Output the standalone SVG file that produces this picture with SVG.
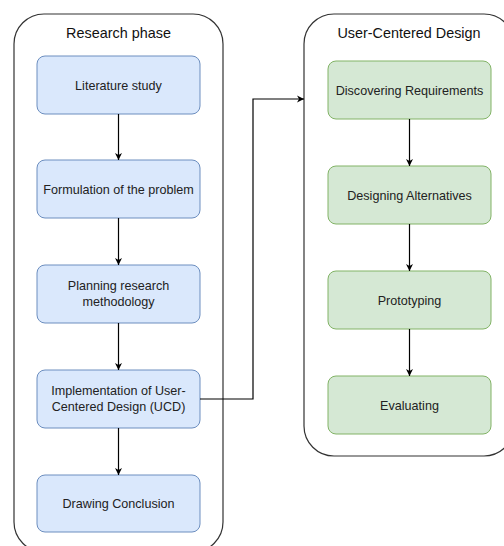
<svg xmlns="http://www.w3.org/2000/svg" width="504" height="546" viewBox="0 0 504 546">
<style>
.cont{fill:#fff;stroke:#333;stroke-width:1.2}
.blue{fill:#dae8fc;stroke:#6c8ebf;stroke-width:1}
.green{fill:#d5e8d4;stroke:#82b366;stroke-width:1}
.t{font-family:"Liberation Sans",Arial,sans-serif;font-size:12.6px;fill:#222;text-anchor:middle}
.h{font-family:"Liberation Sans",Arial,sans-serif;font-size:14.4px;fill:#111;text-anchor:middle}
.c{fill:none;stroke:#000;stroke-width:1.2}
</style>
<defs>
<marker id="ah" markerWidth="8" markerHeight="8" refX="7" refY="4" orient="auto" markerUnits="userSpaceOnUse">
<path d="M0,0.5 L7,4 L0,7.5 L2,4 Z" fill="#000"/>
</marker>
</defs>
<g id="research-phase">
<rect class="cont" x="14" y="14" width="209" height="538" rx="30"/>
<text class="h" x="118.5" y="38">Research phase</text>
</g>
<g id="ucd-container">
<rect class="cont" x="304" y="14" width="210" height="442" rx="30"/>
<text class="h" x="409" y="38">User-Centered Design</text>
</g>
<g id="literature"><rect class="blue" x="37" y="56" width="163" height="58" rx="8"/><text class="t" x="118.5" y="89.5">Literature study</text></g>
<g id="formulation"><rect class="blue" x="37" y="160" width="163" height="58" rx="8"/><text class="t" x="118.5" y="193.5">Formulation of the problem</text></g>
<g id="planning"><rect class="blue" x="37" y="265" width="163" height="58" rx="8"/><text class="t" x="118.5" y="290">Planning research</text><text class="t" x="118.5" y="306">methodology</text></g>
<g id="implementation"><rect class="blue" x="37" y="370" width="163" height="58" rx="8"/><text class="t" x="118.5" y="395">Implementation of User-</text><text class="t" x="118.5" y="411">Centered Design (UCD)</text></g>
<g id="drawing"><rect class="blue" x="37" y="475" width="163" height="57" rx="8"/><text class="t" x="118.5" y="508">Drawing Conclusion</text></g>
<g id="discovering"><rect class="green" x="328" y="61" width="163" height="58" rx="8"/><text class="t" x="409.5" y="94.5">Discovering Requirements</text></g>
<g id="designing"><rect class="green" x="328" y="166" width="163" height="58" rx="8"/><text class="t" x="409.5" y="199.5">Designing Alternatives</text></g>
<g id="prototyping"><rect class="green" x="328" y="271" width="163" height="58" rx="8"/><text class="t" x="409.5" y="304.5">Prototyping</text></g>
<g id="evaluating"><rect class="green" x="328" y="376" width="163" height="58" rx="8"/><text class="t" x="409.5" y="409.5">Evaluating</text></g>
<g id="connectors">
<path class="c" d="M118.5,114 V160" marker-end="url(#ah)"/>
<path class="c" d="M118.5,218 V265" marker-end="url(#ah)"/>
<path class="c" d="M118.5,323 V370" marker-end="url(#ah)"/>
<path class="c" d="M118.5,428 V475" marker-end="url(#ah)"/>
<path class="c" d="M200,399 H253 V99 H304" marker-end="url(#ah)"/>
<path class="c" d="M409.5,119 V166" marker-end="url(#ah)"/>
<path class="c" d="M409.5,224 V271" marker-end="url(#ah)"/>
<path class="c" d="M409.5,329 V376" marker-end="url(#ah)"/>
</g>
</svg>
